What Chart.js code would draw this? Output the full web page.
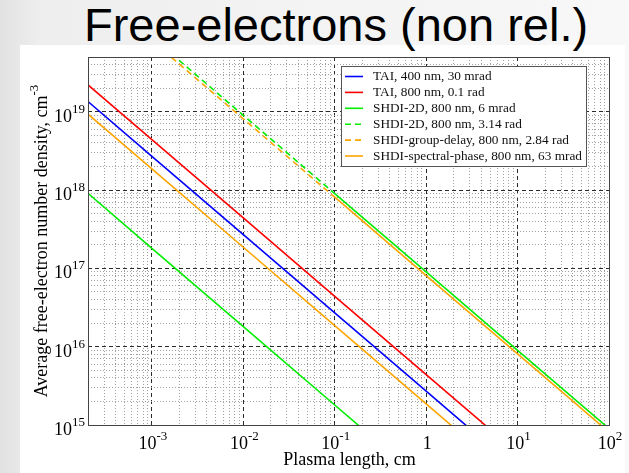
<!DOCTYPE html>
<html>
<head>
<meta charset="utf-8">
<script src="https://cdn.jsdelivr.net/npm/chart.js@4.4.0/dist/chart.umd.min.js"></script>
<style>
html, body { margin: 0; padding: 0; }
body {
    width: 629px; height: 473px; overflow: hidden; position: relative;
    background: linear-gradient(to right, #e2e2e2 0px, #eeeeee 40px, #f3f3f3 300px, #f8f8f8 100%);
}
#panel { position: absolute; left: 20px; top: 45px; width: 605px; height: 428px; background: #fff; }
#titulo {
    position: absolute; left: 84px; top: 1px; white-space: nowrap; color: #000;
    font: 47px/47px "Liberation Sans", Arial, sans-serif;
}
#grafico { position: absolute; left: 0; top: 0; }
</style>
</head>
<body>
<div id="panel"></div>
<div id="titulo">Free-electrons (non rel.)</div>
<canvas id="grafico" width="629" height="473"></canvas>
<script>
// comprimentos de plasma (cm) onde os valores foram lidos
const comprimentos = [2e-4, 1e-3, 1e-2, 1e-1, 1, 10, 100];

// densidade média de elétrons livres (cm^-3) para cada curva
const taiAzul       = [1.35e19, 2.7e18, 2.7e17, 2.7e16, 2.7e15, 2.7e14, 2.7e13];
const taiVermelho   = [2.2e19, 4.4e18, 4.4e17, 4.4e16, 4.4e15, 4.4e14, 4.4e13];
const shdi2dVerde   = [9.1e17, 1.8e17, 1.8e16, 1.8e15, 1.8e14, 1.8e13, 1.8e12];
const shdi2dTraco   = [4.5e20, 9.0e19, 9.0e18, 9.0e17, 9.0e16, 9.0e15, 9.0e14];
const grupoAtraso   = [4.05e20, 8.1e19, 8.1e18, 8.1e17, 8.1e16, 8.1e15, 8.1e14];
const faseEspectral = [9.3e18, 1.86e18, 1.86e17, 1.86e16, 1.86e15, 1.86e14, 1.86e13];

const legendas = [
    "TAI, 400 nm, 30 mrad",
    "TAI, 800 nm, 0.1 rad",
    "SHDI-2D, 800 nm, 6 mrad",
    "SHDI-2D, 800 nm, 3.14 rad",
    "SHDI-group-delay, 800 nm, 2.84 rad",
    "SHDI-spectral-phase, 800 nm, 63 mrad"
];

// marcas dos eixos
const xDecadas = [1e-4, 1e-3, 1e-2, 1e-1, 1, 10, 100];
const xRotulos = ["10^-3", "10^-2", "10^-1", "1", "10^1", "10^2"];
const xValoresRotulo = [1e-3, 1e-2, 1e-1, 1, 10, 100];
const yDecadas = [1e15, 1e16, 1e17, 1e18, 1e19];
const yRotulos = ["10^15", "10^16", "10^17", "10^18", "10^19"];
const xMin = 2e-4, xMax = 100, yMin = 1e15, yMax = 5e19;

const fonteSerif = '"Liberation Serif", "Times New Roman", serif';

function ehDecada(v) {
    const l = Math.log10(v);
    return Math.abs(l - Math.round(l)) < 1e-6;
}

function marcas(decadas, min, max) {
    const lista = [];
    decadas.forEach(d => {
        for (let k = 1; k <= 9; k++) {
            const v = d * k;
            if (v >= min * 0.9999 && v <= max * 1.0001) lista.push({ value: v });
        }
    });
    return lista;
}

function pontos(valores) {
    return comprimentos.map((x, i) => ({ x, y: valores[i] }));
}

const tracejado = ctx => ctx.p0.parsed.x < 0.1 ? [6, 4] : [];

// texto "10^n" com expoente elevado
function potencia(ctx, texto, x, y, alinha, tam, tamExp, sobe) {
    const partes = texto.split("^");
    ctx.font = tam + "px " + fonteSerif;
    const wb = ctx.measureText(partes[0]).width;
    ctx.font = tamExp + "px " + fonteSerif;
    const we = partes[1] ? ctx.measureText(partes[1]).width : 0;
    const total = wb + we;
    const x0 = alinha === "right" ? x - total : x - total / 2;
    ctx.textAlign = "left";
    ctx.textBaseline = "alphabetic";
    ctx.font = tam + "px " + fonteSerif;
    ctx.fillText(partes[0], x0, y);
    if (partes[1]) {
        ctx.font = tamExp + "px " + fonteSerif;
        ctx.fillText(partes[1], x0 + wb, y - sobe);
    }
}

const moldura = {
    id: "moldura",
    afterDatasetsDraw(chart) {
        const { ctx, chartArea: a } = chart;
        ctx.save();
        ctx.strokeStyle = "#444";
        ctx.lineWidth = 1;
        ctx.strokeRect(Math.round(a.left) + 0.5, Math.round(a.top) + 0.5,
            Math.round(a.right - a.left), Math.round(a.bottom - a.top));

        // legenda
        const bx = 341.5, by = 66.5, bw = 245, bh = 100;
        ctx.fillStyle = "#fff";
        ctx.fillRect(bx, by, bw, bh);
        ctx.strokeStyle = "#555";
        ctx.strokeRect(bx, by, bw, bh);
        chart.data.datasets.forEach((ds, i) => {
            const y = 76.5 + i * 15.9;
            ctx.strokeStyle = ds.borderColor;
            ctx.lineWidth = 1.6;
            ctx.setLineDash(ds.tracejada ? [6, 4] : []);
            ctx.beginPath();
            ctx.moveTo(345, y);
            ctx.lineTo(363, y);
            ctx.stroke();
            ctx.setLineDash([]);
            ctx.fillStyle = "#111";
            ctx.font = "13.3px " + fonteSerif;
            ctx.textAlign = "left";
            ctx.textBaseline = "middle";
            ctx.fillText(ds.label, 373, y + 0.5);
        });
        ctx.restore();
    },
    afterDraw(chart) {
        const { ctx, chartArea: a, scales } = chart;
        ctx.save();
        ctx.fillStyle = "#000";
        xValoresRotulo.forEach((v, i) => {
            const px = scales.x.getPixelForValue(v);
            potencia(ctx, xRotulos[i], px + 1, a.bottom + 24, "center", 18, 13, 9);
        });
        yDecadas.forEach((v, i) => {
            const py = scales.y.getPixelForValue(v);
            potencia(ctx, yRotulos[i], 85, py + 10, "right", 18, 13, 9);
        });

        // título do eixo x
        ctx.font = "18px " + fonteSerif;
        ctx.textAlign = "center";
        ctx.textBaseline = "alphabetic";
        ctx.fillText("Plasma length, cm", (a.left + a.right) / 2 + 1, 465);

        // título do eixo y (girado)
        ctx.translate(47, (a.top + a.bottom) / 2);
        ctx.rotate(-Math.PI / 2);
        potencia(ctx, "Average free-electron number density, cm^-3", 0, 0, "center", 18, 13, 9);
        ctx.restore();
    }
};

const conjuntos = [
    { label: legendas[0], data: pontos(taiAzul), borderColor: "#0000ff" },
    { label: legendas[1], data: pontos(taiVermelho), borderColor: "#ff0000" },
    { label: legendas[2], data: pontos(shdi2dVerde), borderColor: "#00ee00" },
    { label: legendas[3], data: pontos(shdi2dTraco), borderColor: "#00ee00", tracejada: true },
    { label: legendas[4], data: pontos(grupoAtraso), borderColor: "#ffa500", tracejada: true },
    { label: legendas[5], data: pontos(faseEspectral), borderColor: "#ffa500" }
].map((ds, i) => Object.assign(ds, {
    borderWidth: 1.6,
    pointRadius: 0,
    fill: false,
    tension: 0,
    clip: 0,
    order: 10 - i,
    segment: ds.tracejada ? { borderDash: tracejado } : undefined
}));

const corGrade = ctx => ehDecada(ctx.tick.value) ? "#2a2a2a" : "#a0a0a0";
const tracoGrade = ctx => ehDecada(ctx.tick.value) ? [4, 3] : [1, 2];

new Chart(document.getElementById("grafico").getContext("2d"), {
    type: "line",
    data: { datasets: conjuntos },
    options: {
        responsive: false,
        animation: false,
        devicePixelRatio: 1,
        layout: { padding: { left: 0, right: 20, top: 57, bottom: 0 } },
        plugins: { legend: { display: false }, tooltip: { enabled: false }, title: { display: false } },
        scales: {
            x: {
                type: "logarithmic",
                min: xMin,
                max: xMax,
                afterBuildTicks: s => { s.ticks = marcas(xDecadas, xMin, xMax); },
                afterFit: s => { s.height = 48; },
                ticks: { display: false, autoSkip: false },
                grid: { color: corGrade, lineWidth: 1, drawTicks: false },
                border: { display: false, dash: tracoGrade }
            },
            y: {
                type: "logarithmic",
                min: yMin,
                max: yMax,
                afterBuildTicks: s => { s.ticks = marcas(yDecadas, yMin, yMax); },
                afterFit: s => { s.width = 88; },
                ticks: { display: false, autoSkip: false },
                grid: { color: corGrade, lineWidth: 1, drawTicks: false },
                border: { display: false, dash: tracoGrade }
            }
        }
    },
    plugins: [moldura]
});
</script>
</body>
</html>
